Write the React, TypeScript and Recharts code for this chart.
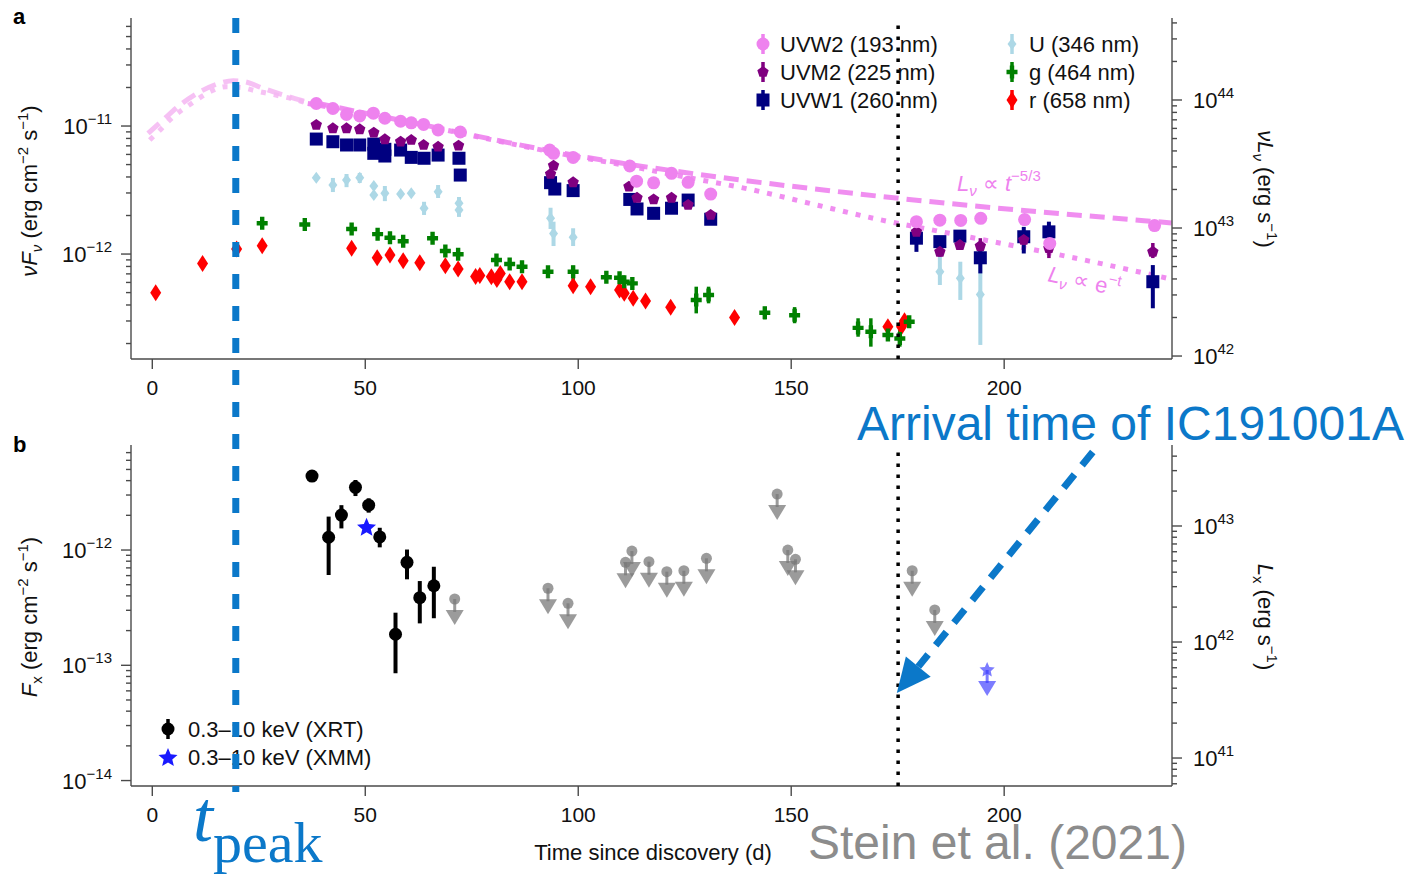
import {
  ComposedChart,
  ErrorBar,
  Line,
  ReferenceLine,
  Scatter,
  XAxis,
  YAxis,
} from "recharts";

// [day, flux, lower bound, upper bound] — flux in erg cm^-2 s^-1
type Pt = [number, number, number?, number?];

const UVW2: Pt[] = [
  [38.5, 1.5e-11], [42.4, 1.37e-11], [45.6, 1.23e-11], [48.7, 1.2e-11], [51.9, 1.26e-11],
  [54.6, 1.15e-11], [58.3, 1.09e-11], [60.8, 1.06e-11], [63.7, 1.03e-11], [67.1, 9.31e-12],
  [72.3, 8.98e-12], [93.3, 6.49e-12], [94.2, 6.12e-12], [98.8, 5.69e-12], [112.1, 4.87e-12],
  [113.7, 3.71e-12], [117.7, 3.6e-12], [121.9, 4.27e-12], [125.8, 3.63e-12], [131.1, 2.94e-12],
  [179.4, 1.79e-12], [184.9, 1.84e-12], [189.8, 1.83e-12], [194.5, 1.9e-12], [204.8, 1.86e-12],
  [210.7, 1.21e-12], [235.3, 1.67e-12],
];

const UVM2: Pt[] = [
  [38.5, 1.02e-11], [42.4, 9.59e-12], [45.6, 9.59e-12], [48.7, 9.42e-12], [52.0, 8.87e-12],
  [54.6, 7.87e-12], [58.3, 7.54e-12], [60.8, 7.78e-12], [63.7, 7.11e-12], [67.1, 6.89e-12],
  [71.9, 7.02e-12], [93.5, 4.22e-12], [94.2, 4.9e-12], [98.8, 3.63e-12], [111.9, 3.36e-12],
  [113.8, 2.75e-12], [117.7, 2.67e-12], [121.9, 2.75e-12], [125.8, 2.42e-12], [131.1, 2.02e-12],
  [179.4, 1.49e-12], [184.9, 1.04e-12, 9.53e-13, 1.175e-12], [189.6, 1.175e-12, 1.075e-12, 1.29e-12],
  [194.4, 1.155e-12, 1.02e-12, 1.33e-12], [204.6, 1.29e-12, 1.175e-12, 1.45e-12],
  [210.5, 1.11e-12, 9.3e-13, 1.22e-12], [234.9, 1.04e-12, 9.3e-13, 1.22e-12],
];

const UVW1: Pt[] = [
  [38.5, 7.91e-12], [42.4, 7.54e-12], [45.6, 7.11e-12], [48.7, 7.11e-12], [52.0, 7.23e-12],
  [52.0, 6.12e-12], [54.6, 6.58e-12], [54.6, 5.83e-12], [58.3, 6.49e-12], [60.8, 5.69e-12],
  [63.8, 5.6e-12], [67.1, 5.93e-12], [72.0, 5.6e-12], [72.3, 4.14e-12], [93.5, 3.61e-12],
  [94.5, 3.22e-12], [98.8, 3.13e-12], [112.1, 2.67e-12], [113.8, 2.25e-12], [117.7, 2.08e-12],
  [121.9, 2.28e-12], [125.8, 2.64e-12], [131.1, 1.87e-12],
  [179.4, 1.33e-12, 1.04e-12, 1.54e-12], [184.9, 1.25e-12, 1.11e-12, 1.365e-12],
  [189.6, 1.38e-12, 1.21e-12, 1.54e-12], [194.4, 9.35e-13, 7.06e-13, 1.14e-12],
  [204.6, 1.365e-12, 1.01e-12, 1.63e-12], [210.5, 1.49e-12, 1.21e-12, 1.79e-12],
  [234.9, 6.08e-13, 3.77e-13, 8.2e-13],
];

const U_BAND: Pt[] = [
  [38.5, 3.94e-12], [42.4, 3.46e-12, 3.05e-12, 3.93e-12], [45.6, 3.79e-12, 3.33e-12, 4.22e-12],
  [48.7, 3.94e-12, 3.59e-12, 4.3e-12], [52.0, 3.4e-12], [52.0, 2.89e-12],
  [54.6, 2.98e-12, 2.59e-12, 3.4e-12], [58.3, 2.94e-12], [60.8, 2.98e-12],
  [63.8, 2.28e-12, 2.02e-12, 2.56e-12], [67.1, 3.07e-12, 2.74e-12, 3.46e-12], [72.0, 2.49e-12],
  [72.0, 2.21e-12, 1.95e-12, 2.79e-12], [93.5, 1.9e-12, 1.57e-12, 2.3e-12],
  [94.2, 1.45e-12, 1.155e-12, 1.79e-12], [98.8, 1.35e-12, 1.155e-12, 1.59e-12],
  [184.9, 7.28e-13, 5.73e-13, 1.04e-12], [189.7, 6.46e-13, 4.38e-13, 8.71e-13],
  [194.4, 4.84e-13, 1.95e-13, 9.53e-13],
];

const G_BAND: Pt[] = [
  [25.8, 1.74e-12], [35.8, 1.7e-12], [46.8, 1.57e-12], [52.9, 1.43e-12], [55.8, 1.34e-12],
  [58.9, 1.26e-12], [65.8, 1.33e-12], [68.8, 1.055e-12], [71.8, 9.95e-13], [80.8, 8.98e-13],
  [83.9, 8.35e-13], [86.8, 7.96e-13], [92.9, 7.28e-13], [98.8, 7.28e-13, 6.27e-13, 8.11e-13],
  [106.6, 6.58e-13], [109.7, 6.53e-13], [110.8, 6.08e-13], [112.7, 5.9e-13],
  [127.7, 4.38e-13, 3.44e-13, 5.56e-13], [130.6, 4.79e-13, 4.12e-13, 5.56e-13],
  [143.8, 3.48e-13, 3.09e-13, 3.87e-13], [150.8, 3.33e-13, 2.88e-13, 3.85e-13],
  [165.7, 2.65e-13, 2.26e-13, 3.15e-13], [168.7, 2.47e-13, 1.89e-13, 3.15e-13],
  [172.7, 2.33e-13], [175.5, 2.19e-13, 1.89e-13, 2.55e-13], [177.7, 2.96e-13],
];

const R_BAND: Pt[] = [
  [0.8, 4.99e-13], [11.8, 8.45e-13], [19.8, 1.094e-12], [25.8, 1.16e-12], [46.8, 1.11e-12],
  [52.8, 9.35e-13], [55.8, 9.82e-13], [58.9, 8.87e-13], [62.8, 8.55e-13], [68.8, 8.11e-13],
  [71.8, 7.64e-13], [75.9, 6.67e-13], [76.9, 6.79e-13], [79.6, 6.65e-13], [80.9, 6.34e-13],
  [81.7, 7.06e-13], [83.9, 6.08e-13], [86.8, 6.08e-13], [98.8, 5.65e-13], [102.9, 5.56e-13],
  [109.7, 5.24e-13], [110.8, 4.93e-13], [112.9, 4.51e-13], [115.8, 4.3e-13], [121.7, 3.84e-13],
  [136.7, 3.19e-13], [172.7, 2.7e-13], [175.9, 2.7e-13], [176.6, 3.01e-13],
];

// model curves: extrapolated part (light) and fitted part
const POWER_EARLY: Pt[] = [
  [-1.0, 8.77e-12], [2.5, 1.114e-11], [6.5, 1.459e-11], [11.2, 1.854e-11], [15.8, 2.158e-11],
  [19.0, 2.26e-11], [21.7, 2.22e-11], [26.0, 1.97e-11], [31.5, 1.715e-11], [36.2, 1.55e-11],
  [38.6, 1.51e-11],
];
const POWER_FIT: Pt[] = [
  [38.6, 1.51e-11], [50, 1.26e-11], [60, 1.08e-11], [70, 9.22e-12], [80, 7.85e-12],
  [95, 6.26e-12], [110, 5.14e-12], [125, 4.34e-12], [140, 3.72e-12], [160, 3.1e-12],
  [180, 2.62e-12], [200, 2.26e-12], [220, 1.98e-12], [239.3, 1.75e-12],
];
const EXP_EARLY: Pt[] = [
  [-0.6, 7.78e-12], [1.4, 9.02e-12], [4.9, 1.18e-11], [9.2, 1.5e-11], [13.5, 1.85e-11],
  [17.4, 2.03e-11], [20.9, 2.0e-11], [24.1, 1.89e-11], [28.8, 1.75e-11], [33.8, 1.6e-11],
  [36.5, 1.5e-11],
];
const EXP_FIT: Pt[] = [
  [36.5, 1.5e-11], [50, 1.25e-11], [60, 1.07e-11], [70, 9.14e-12], [80, 7.78e-12],
  [95, 6.15e-12], [110, 5.0e-12], [125, 4.0e-12], [140, 3.22e-12], [155, 2.46e-12],
  [170, 1.88e-12], [185, 1.5e-12], [200, 1.2e-12], [220, 8.81e-13], [238.4, 6.46e-13],
];

// panel b — X-ray
const XRT: Pt[] = [
  [37.5, 4.38e-12], [41.4, 1.29e-12, 6.07e-13, 1.95e-12], [44.4, 2.01e-12, 1.54e-12, 2.45e-12],
  [47.7, 3.5e-12, 2.94e-12, 4.05e-12], [50.8, 2.45e-12, 2.11e-12, 2.81e-12],
  [53.4, 1.3e-12, 1.055e-12, 1.56e-12], [57.1, 1.86e-13, 8.53e-14, 2.86e-13],
  [59.8, 7.82e-13, 5.57e-13, 1.01e-12], [62.8, 3.86e-13, 2.31e-13, 5.38e-13],
  [66.1, 4.9e-13, 2.56e-13, 7.16e-13],
];
const XMM: Pt[] = [[50.3, 1.56e-12]];
const XMM_LIMIT: Pt[] = [[196.0, 9.1e-14]];
const XRT_LIMITS: Pt[] = [
  [71.0, 3.76e-13], [92.9, 4.66e-13], [97.6, 3.45e-13], [111.1, 7.82e-13], [112.6, 9.8e-13],
  [116.6, 7.92e-13], [120.8, 6.49e-13], [124.8, 6.61e-13], [130.1, 8.47e-13], [146.7, 3.06e-12],
  [149.2, 1.0e-12], [151.0, 8.3e-13], [178.4, 6.61e-13], [183.7, 3.02e-13],
];

const T_PEAK = 19.6;
const T_NEUTRINO = 175.1;
const ARROW_FROM: [number, number] = [220.8, 7.08e-12];
const ARROW_TO: [number, number] = [174.8, 5.75e-14];

const X_DOMAIN = [-5, 239.4];
const X_TICKS = [0, 50, 100, 150, 200];

const A_LEFT_DOMAIN = [1.514e-13, 6.98e-11];
const A_RIGHT_DOMAIN = [9.48e41, 4.37e44];
const A_LEFT_TICKS = [
  2e-13, 3e-13, 4e-13, 5e-13, 6e-13, 7e-13, 8e-13, 9e-13, 1e-12, 2e-12, 3e-12, 4e-12, 5e-12,
  6e-12, 7e-12, 8e-12, 9e-12, 1e-11, 2e-11, 3e-11, 4e-11, 5e-11, 6e-11,
];
const A_RIGHT_TICKS = [
  1e42, 2e42, 3e42, 4e42, 5e42, 6e42, 7e42, 8e42, 9e42, 1e43, 2e43, 3e43, 4e43, 5e43, 6e43,
  7e43, 8e43, 9e43, 1e44, 2e44, 3e44, 4e44,
];

const B_LEFT_DOMAIN = [8.97e-15, 8.15e-12];
const B_RIGHT_DOMAIN = [5.74e40, 4.99e43];
const B_LEFT_TICKS = [
  1e-14, 2e-14, 3e-14, 4e-14, 5e-14, 6e-14, 7e-14, 8e-14, 9e-14, 1e-13, 2e-13, 3e-13, 4e-13,
  5e-13, 6e-13, 7e-13, 8e-13, 9e-13, 1e-12, 2e-12, 3e-12, 4e-12, 5e-12, 6e-12, 7e-12,
];
const B_RIGHT_TICKS = [
  6e40, 7e40, 8e40, 9e40, 1e41, 2e41, 3e41, 4e41, 5e41, 6e41, 7e41, 8e41, 9e41, 1e42, 2e42,
  3e42, 4e42, 5e42, 6e42, 7e42, 8e42, 9e42, 1e43, 2e43, 3e43, 4e43,
];

const BLUE = "#0b78c9";
const PINK = "#ee82ee";
const AXIS = "#4a4a4a";
const FONT = '"Liberation Sans", Arial, Helvetica, sans-serif';
const SERIF = '"Liberation Serif", "Times New Roman", serif';

function rows(pts: Pt[]) {
  return pts.map(([d, f, lo, hi]) => ({
    d,
    f,
    e: lo === undefined || hi === undefined ? [0, 0] : [f - lo, hi - f],
  }));
}

// ---- marker shapes ----
function polygonPts(cx: number, cy: number, n: number, r1: number, r2: number) {
  const pts: string[] = [];
  const steps = r1 === r2 ? n : n * 2;
  for (let i = 0; i < steps; i++) {
    const r = i % 2 === 0 || r1 === r2 ? r1 : r2;
    const a = -Math.PI / 2 + (i * 2 * Math.PI) / steps;
    pts.push(`${cx + r * Math.cos(a)},${cy + r * Math.sin(a)}`);
  }
  return pts.join(" ");
}

const dot = (fill: string, r: number) => (p: any) => (
  <circle cx={p.cx} cy={p.cy} r={r} fill={fill} />
);
const square = (fill: string, s: number) => (p: any) => (
  <rect x={p.cx - s / 2} y={p.cy - s / 2} width={s} height={s} fill={fill} />
);
const diamond = (fill: string, w: number, h: number) => (p: any) => (
  <polygon
    points={`${p.cx},${p.cy - h} ${p.cx + w},${p.cy} ${p.cx},${p.cy + h} ${p.cx - w},${p.cy}`}
    fill={fill}
  />
);
const plus = (fill: string) => (p: any) => (
  <path
    d={`M${p.cx - 5.5},${p.cy - 2.2} h11 v4.4 h-11 z M${p.cx - 2.2},${p.cy - 6.5} h4.4 v13 h-4.4 z`}
    fill={fill}
  />
);
const pentagon = (fill: string, r: number) => (p: any) => (
  <polygon points={polygonPts(p.cx, p.cy, 5, r, r)} fill={fill} />
);
const star = (fill: string, r1: number, r2: number) => (p: any) => (
  <polygon points={polygonPts(p.cx, p.cy, 5, r1, r2)} fill={fill} />
);

const upperLimit = (fill: string, withStar: boolean, alpha: number) => (p: any) => (
  <g>
    {withStar ? (
      <polygon points={polygonPts(p.cx, p.cy, 5, 8, 3.8)} fill={fill} fillOpacity={alpha} />
    ) : (
      <circle cx={p.cx} cy={p.cy} r={5.5} fill={fill} fillOpacity={alpha} />
    )}
    <line x1={p.cx} y1={p.cy} x2={p.cx} y2={p.cy + 13} stroke={fill} strokeWidth={3} strokeOpacity={alpha} />
    <polygon
      points={`${p.cx - 9},${p.cy + 11} ${p.cx + 9},${p.cy + 11} ${p.cx},${p.cy + 26}`}
      fill={fill}
      fillOpacity={alpha}
    />
  </g>
);

const SHAPES = {
  uvw2: dot(PINK, 6.5),
  uvm2: pentagon("#800080", 6),
  uvw1: square("#000080", 13),
  u: diamond("#add8e6", 4.5, 6),
  g: plus("#008000"),
  r: diamond("#ff0000", 5.5, 8.5),
  xrt: dot("#000", 6.5),
  xmm: star("#1a1aff", 10, 4.5),
};

function LogTick({ x, y, payload, side }: any) {
  const lg = Math.log10(payload.value);
  const exp = Math.round(lg);
  const major = Math.abs(lg - exp) < 1e-6;
  const s = side === "left" ? -1 : 1;
  return (
    <g>
      <line x1={x} y1={y} x2={x + s * (major ? 10 : 5)} y2={y} stroke={AXIS} strokeWidth={1.4} />
      {major && (
        <text
          x={side === "left" ? x - 19 : x + 21}
          y={y + 8}
          textAnchor={side === "left" ? "end" : "start"}
          fontSize={22}
          fill="#111"
        >
          10
          <tspan dy={-10} fontSize={15}>
            {exp < 0 ? `\u2212${-exp}` : `${exp}`}
          </tspan>
        </text>
      )}
    </g>
  );
}

function ArrowShape(p: any) {
  const { x1, y1, x2, y2 } = p;
  const len = Math.hypot(x2 - x1, y2 - y1);
  const ux = (x2 - x1) / len;
  const uy = (y2 - y1) / len;
  const head = 34;
  const half = 16;
  const bx = x2 - ux * head;
  const by = y2 - uy * head;
  return (
    <g>
      <line x1={x1} y1={y1} x2={bx} y2={by} stroke={BLUE} strokeWidth={7} strokeDasharray="17 12" />
      <polygon
        points={`${x2},${y2} ${bx - uy * half},${by + ux * half} ${bx + uy * half},${by - ux * half}`}
        fill={BLUE}
      />
    </g>
  );
}

function Axes({ leftDomain, leftTicks, rightDomain, rightTicks, xHeight }: any) {
  return [
    <XAxis
      key="xb"
      dataKey="d"
      type="number"
      domain={X_DOMAIN}
      allowDataOverflow
      ticks={X_TICKS}
      interval={0}
      height={xHeight}
      tickSize={10}
      tickMargin={11}
      tick={{ fontSize: 21, fill: "#111" }}
      axisLine={{ stroke: AXIS, strokeWidth: 1.4 }}
      tickLine={{ stroke: AXIS, strokeWidth: 1.4 }}
    />,
    <XAxis
      key="xt"
      xAxisId="top"
      orientation="top"
      dataKey="d"
      type="number"
      domain={X_DOMAIN}
      allowDataOverflow
      height={0}
      tick={false}
      tickLine={false}
      axisLine={{ stroke: AXIS, strokeWidth: 1.4 }}
    />,
    <YAxis
      key="yl"
      yAxisId="left"
      dataKey="f"
      type="number"
      scale="log"
      domain={leftDomain}
      allowDataOverflow
      ticks={leftTicks}
      interval={0}
      width={131}
      tickLine={false}
      tickSize={0}
      tickMargin={0}
      tick={(p: any) => <LogTick {...p} side="left" />}
      axisLine={{ stroke: AXIS, strokeWidth: 1.4 }}
    />,
    <YAxis
      key="yr"
      yAxisId="right"
      orientation="right"
      type="number"
      scale="log"
      domain={rightDomain}
      allowDataOverflow
      ticks={rightTicks}
      interval={0}
      width={237}
      tickLine={false}
      tickSize={0}
      tickMargin={0}
      tick={(p: any) => <LogTick {...p} side="right" />}
      axisLine={{ stroke: AXIS, strokeWidth: 1.4 }}
    />,
  ];
}

function series(pts: Pt[], shape: any, barColor: string, barWidth = 3.5) {
  return (
    <Scatter yAxisId="left" data={rows(pts)} dataKey="f" shape={shape} isAnimationActive={false}>
      <ErrorBar
        dataKey="e"
        direction="y"
        width={0}
        stroke={barColor}
        strokeWidth={barWidth}
        isAnimationActive={false}
      />
    </Scatter>
  );
}

function curve(pts: Pt[], dash: string, color: string, opacity: number) {
  return (
    <Line
      yAxisId="left"
      data={rows(pts)}
      dataKey="f"
      type="monotone"
      stroke={color}
      strokeOpacity={opacity}
      strokeWidth={5}
      strokeDasharray={dash}
      dot={false}
      activeDot={false}
      isAnimationActive={false}
    />
  );
}

function PanelA() {
  return (
    <ComposedChart width={1409} height={400} margin={{ top: 18, right: 0, bottom: 0, left: 0 }}>
      {Axes({
        leftDomain: A_LEFT_DOMAIN,
        leftTicks: A_LEFT_TICKS,
        rightDomain: A_RIGHT_DOMAIN,
        rightTicks: A_RIGHT_TICKS,
        xHeight: 41,
      })}
      {curve(POWER_EARLY, "15 8", "#f4b6f2", 0.85)}
      {curve(EXP_EARLY, "5 8", "#f4b6f2", 0.85)}
      {curve(POWER_FIT, "15 8", PINK, 0.9)}
      {curve(EXP_FIT, "5 8", PINK, 0.9)}
      {series(R_BAND, SHAPES.r, "#ff0000")}
      {series(G_BAND, SHAPES.g, "#008000")}
      {series(U_BAND, SHAPES.u, "#add8e6", 4)}
      {series(UVW1, SHAPES.uvw1, "#000080", 4)}
      {series(UVM2, SHAPES.uvm2, "#800080")}
      {series(UVW2, SHAPES.uvw2, PINK)}
      <ReferenceLine
        yAxisId="left"
        x={T_NEUTRINO}
        stroke="#000"
        strokeWidth={3.5}
        strokeDasharray="3.5 7.5"
        zIndex={900}
      />
      <ReferenceLine
        yAxisId="left"
        segment={[
          { x: T_PEAK, y: A_LEFT_DOMAIN[1] },
          { x: T_PEAK, y: 7.2e-14 },
        ]}
        ifOverflow="visible"
        stroke={BLUE}
        strokeWidth={7}
        strokeDasharray="15 17"
        zIndex={1000}
      />
    </ComposedChart>
  );
}

function PanelB() {
  return (
    <ComposedChart width={1409} height={476} margin={{ top: 45, right: 0, bottom: 0, left: 0 }}>
      {Axes({
        leftDomain: B_LEFT_DOMAIN,
        leftTicks: B_LEFT_TICKS,
        rightDomain: B_RIGHT_DOMAIN,
        rightTicks: B_RIGHT_TICKS,
        xHeight: 90,
      })}
      <Scatter
        yAxisId="left"
        data={rows(XRT_LIMITS)}
        dataKey="f"
        shape={upperLimit("#7a7a7a", false, 0.75)}
        isAnimationActive={false}
      />
      <Scatter
        yAxisId="left"
        data={rows(XMM_LIMIT)}
        dataKey="f"
        shape={upperLimit("#3535ff", true, 0.65)}
        isAnimationActive={false}
      />
      {series(XRT, SHAPES.xrt, "#000", 4)}
      {series(XMM, SHAPES.xmm, "#1a1aff")}
      <ReferenceLine
        yAxisId="left"
        x={T_NEUTRINO}
        stroke="#000"
        strokeWidth={3.5}
        strokeDasharray="3.5 7.5"
        zIndex={900}
      />
      <ReferenceLine
        yAxisId="left"
        segment={[
          { x: ARROW_FROM[0], y: ARROW_FROM[1] },
          { x: ARROW_TO[0], y: ARROW_TO[1] },
        ]}
        ifOverflow="visible"
        shape={ArrowShape}
        zIndex={1000}
      />
      <ReferenceLine
        yAxisId="left"
        segment={[
          { x: T_PEAK, y: 1.92e-11 },
          { x: T_PEAK, y: 7.97e-15 },
        ]}
        ifOverflow="visible"
        stroke={BLUE}
        strokeWidth={7}
        strokeDasharray="15 17"
        zIndex={1000}
      />
    </ComposedChart>
  );
}

function LegendMark({ x, y, shape, bar }: any) {
  return (
    <g>
      <line x1={x} y1={y - 10} x2={x} y2={y + 10} stroke={bar} strokeWidth={3.5} />
      {shape({ cx: x, cy: y })}
    </g>
  );
}

function Overlay() {
  const sub = 15;
  return (
    <svg width={1409} height={876} style={{ position: "absolute", left: 0, top: 0 }} fontFamily={FONT}>
      <text x={13} y={24} fontSize={22} fontWeight="bold">a</text>
      <text x={13} y={452} fontSize={22} fontWeight="bold">b</text>

      {/* axis titles */}
      <text transform="translate(37,191) rotate(-90)" textAnchor="middle" fontSize={22} fill="#111">
        <tspan fontStyle="italic">νF</tspan>
        <tspan fontStyle="italic" fontSize={sub} dy={5}>ν</tspan>
        <tspan dy={-5}> (erg cm</tspan>
        <tspan fontSize={sub} dy={-9}>−2</tspan>
        <tspan dy={9}> s</tspan>
        <tspan fontSize={sub} dy={-9}>−1</tspan>
        <tspan dy={9}>)</tspan>
      </text>
      <text transform="translate(1258,189) rotate(90)" textAnchor="middle" fontSize={22} fill="#111">
        <tspan fontStyle="italic">νL</tspan>
        <tspan fontStyle="italic" fontSize={sub} dy={5}>ν</tspan>
        <tspan dy={-5}> (erg s</tspan>
        <tspan fontSize={sub} dy={-9}>−1</tspan>
        <tspan dy={9}>)</tspan>
      </text>
      <text transform="translate(37,617) rotate(-90)" textAnchor="middle" fontSize={22} fill="#111">
        <tspan fontStyle="italic">F</tspan>
        <tspan fontSize={sub} dy={5}>x</tspan>
        <tspan dy={-5}> (erg cm</tspan>
        <tspan fontSize={sub} dy={-9}>−2</tspan>
        <tspan dy={9}> s</tspan>
        <tspan fontSize={sub} dy={-9}>−1</tspan>
        <tspan dy={9}>)</tspan>
      </text>
      <text transform="translate(1258,617) rotate(90)" textAnchor="middle" fontSize={22} fill="#111">
        <tspan fontStyle="italic">L</tspan>
        <tspan fontSize={sub} dy={5}>x</tspan>
        <tspan dy={-5}> (erg s</tspan>
        <tspan fontSize={sub} dy={-9}>−1</tspan>
        <tspan dy={9}>)</tspan>
      </text>
      <text x={653} y={860} textAnchor="middle" fontSize={22} fill="#111">
        Time since discovery (d)
      </text>

      {/* curve labels */}
      <text x={957} y={191} fontSize={22} fill={PINK}>
        <tspan fontStyle="italic">L</tspan>
        <tspan fontStyle="italic" fontSize={15} dy={5}>ν</tspan>
        <tspan dy={-5}> ∝ </tspan>
        <tspan fontStyle="italic">t</tspan>
        <tspan fontSize={15} dy={-10}>−5/3</tspan>
      </text>
      <text transform="translate(1047,281) rotate(12)" fontSize={22} fill={PINK}>
        <tspan fontStyle="italic">L</tspan>
        <tspan fontStyle="italic" fontSize={15} dy={5}>ν</tspan>
        <tspan dy={-5}> ∝ e</tspan>
        <tspan fontSize={15} dy={-10}>−t</tspan>
      </text>

      {/* legend a */}
      <LegendMark x={763} y={44} shape={SHAPES.uvw2} bar={PINK} />
      <LegendMark x={763} y={72} shape={SHAPES.uvm2} bar="#800080" />
      <LegendMark x={763} y={100} shape={SHAPES.uvw1} bar="#000080" />
      <LegendMark x={1012} y={44} shape={SHAPES.u} bar="#add8e6" />
      <LegendMark x={1012} y={72} shape={SHAPES.g} bar="#008000" />
      <LegendMark x={1012} y={100} shape={SHAPES.r} bar="#ff0000" />
      <g fontSize={22} fill="#111">
        <text x={780} y={52}>UVW2 (193 nm)</text>
        <text x={780} y={80}>UVM2 (225 nm)</text>
        <text x={780} y={108}>UVW1 (260 nm)</text>
        <text x={1029} y={52}>U (346 nm)</text>
        <text x={1029} y={80}>g (464 nm)</text>
        <text x={1029} y={108}>r (658 nm)</text>
      </g>

      {/* legend b */}
      <LegendMark x={168} y={729} shape={SHAPES.xrt} bar="#000" />
      {SHAPES.xmm({ cx: 168, cy: 758 })}
      <g fontSize={22} fill="#111">
        <text x={188} y={737}>0.3–10 keV (XRT)</text>
        <text x={188} y={765}>0.3–10 keV (XMM)</text>
      </g>

      {/* annotations */}
      <text x={857} y={440} fontSize={48} fill={BLUE}>Arrival time of IC191001A</text>
      <text x={808} y={859} fontSize={48} fill="#8c8c8c">Stein et al. (2021)</text>
      <text x={193} y={841} fontFamily={SERIF} fontSize={72} fontStyle="italic" fill={BLUE}>t</text>
      <text x={213} y={862} fontFamily={SERIF} fontSize={58} fill={BLUE}>peak</text>
    </svg>
  );
}

export default function App() {
  return (
    <div
      style={{
        position: "fixed",
        left: 0,
        top: 0,
        width: 1409,
        height: 876,
        background: "#fff",
        fontFamily: FONT,
      }}
    >
      <Overlay />
      <div style={{ position: "absolute", left: 0, top: 0 }}>
        <PanelA />
      </div>
      <div style={{ position: "absolute", left: 0, top: 400 }}>
        <PanelB />
      </div>
    </div>
  );
}
